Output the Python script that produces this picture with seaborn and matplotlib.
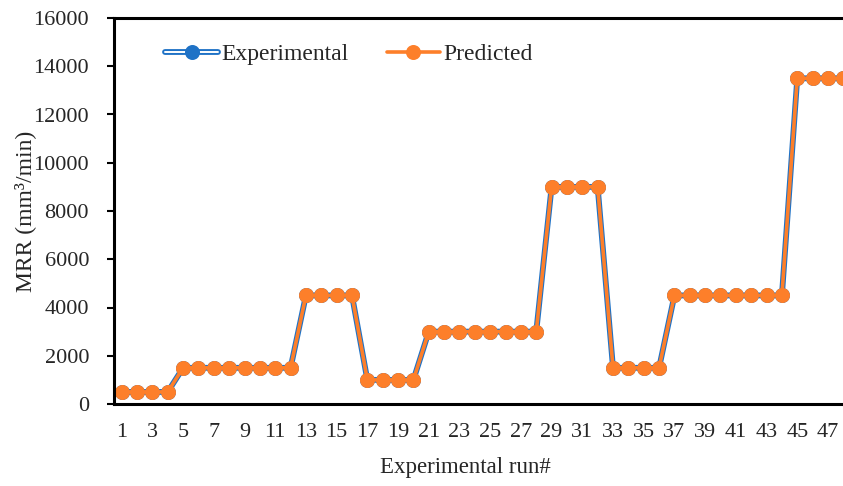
import matplotlib
matplotlib.use("Agg")
import matplotlib.pyplot as plt
import seaborn as sns
import pandas as pd
from matplotlib.lines import Line2D
from matplotlib.legend_handler import HandlerTuple

# Experimental runs and material removal rates (mm^3/min)
runs = list(range(1, 49))
experimental = [500, 500, 500, 500,
                1500, 1500, 1500, 1500, 1500, 1500, 1500, 1500,
                4500, 4500, 4500, 4500,
                1000, 1000, 1000, 1000,
                3000, 3000, 3000, 3000, 3000, 3000, 3000, 3000,
                9000, 9000, 9000, 9000,
                1500, 1500, 1500, 1500,
                4500, 4500, 4500, 4500, 4500, 4500, 4500, 4500,
                13500, 13500, 13500, 13500]
predicted = [500, 500, 500, 500,
             1500, 1500, 1500, 1500, 1500, 1500, 1500, 1500,
             4500, 4500, 4500, 4500,
             1000, 1000, 1000, 1000,
             3000, 3000, 3000, 3000, 3000, 3000, 3000, 3000,
             9000, 9000, 9000, 9000,
             1500, 1500, 1500, 1500,
             4500, 4500, 4500, 4500, 4500, 4500, 4500, 4500,
             13500, 13500, 13500, 13500]
x_ticks = list(range(1, 48, 2))
y_ticks = [0, 2000, 4000, 6000, 8000, 10000, 12000, 14000, 16000]

df = pd.DataFrame({"run": runs, "Experimental": experimental, "Predicted": predicted})

sns.set_style("white")
plt.rcParams["font.family"] = ["Liberation Serif", "DejaVu Serif"]
FS = 16

BLUE = "#1f72c6"
ORANGE = "#fd7f2a"
MS = 10.8

fig = plt.figure(figsize=(8.43, 4.86), dpi=100)
ax = fig.add_axes([114 / 843, 1 - 404 / 486, (851 - 114) / 843, (404 - 18) / 486])

# Experimental: double-stroke blue line (blue outer, white core) with blue markers
sns.lineplot(data=df, x="run", y="Experimental", ax=ax, color=BLUE, linewidth=4.2,
             marker=None, legend=False)
sns.lineplot(data=df, x="run", y="Experimental", ax=ax, color="white", linewidth=1.4,
             marker=None, legend=False)
sns.lineplot(data=df, x="run", y="Experimental", ax=ax, color=BLUE, linewidth=0,
             marker="o", markersize=MS, markeredgewidth=0, legend=False)
# Predicted: solid orange line with orange markers
sns.lineplot(data=df, x="run", y="Predicted", ax=ax, color=ORANGE, linewidth=2.6,
             marker="o", markersize=MS, markeredgewidth=0, legend=False)

ax.set_xlim(0.5, 48.5)
ax.set_ylim(0, 16000)
ax.set_xticks(x_ticks)
ax.set_xticklabels([str(t) for t in x_ticks])
ax.set_yticks(y_ticks)
ax.set_yticklabels([str(t) for t in y_ticks])
ax.tick_params(axis="x", length=0, pad=14, labelsize=FS)
ax.tick_params(axis="y", direction="out", length=5, width=1.5, pad=13,
               left=True, labelsize=FS, color="black")
for side in ["left", "bottom", "top"]:
    ax.spines[side].set_visible(True)
    ax.spines[side].set_color("black")
    ax.spines[side].set_linewidth(2.2)
ax.spines["right"].set_visible(False)
ax.set_xlabel("")
ax.set_ylabel("")
ax.grid(False)

fig.text(25 / 843, 1 - 211 / 486, "MRR (mm³/min)", rotation=90, ha="center",
         va="center", fontsize=FS + 1)
fig.text(465 / 843, 1 - 468 / 486, "Experimental run#", ha="center", va="center",
         fontsize=FS + 0.5)

exp_handle = (Line2D([], [], color=BLUE, linewidth=4.2),
              Line2D([], [], color="white", linewidth=1.4),
              Line2D([], [], color=BLUE, linewidth=0, marker="o", markersize=MS,
                     markeredgewidth=0))
pred_handle = Line2D([], [], color=ORANGE, linewidth=2.6, marker="o", markersize=MS,
                     markeredgewidth=0)
fig.legend([exp_handle, pred_handle], ["Experimental", "Predicted"],
           handler_map={tuple: HandlerTuple(ndivide=1)},
           loc="center left", bbox_to_anchor=(165 / 843, 1 - 54 / 486),
           ncol=2, frameon=False, borderpad=0, borderaxespad=0,
           handlelength=2.25, handletextpad=0.15, columnspacing=1.6, fontsize=17)

fig.savefig("out.png", dpi=100)
